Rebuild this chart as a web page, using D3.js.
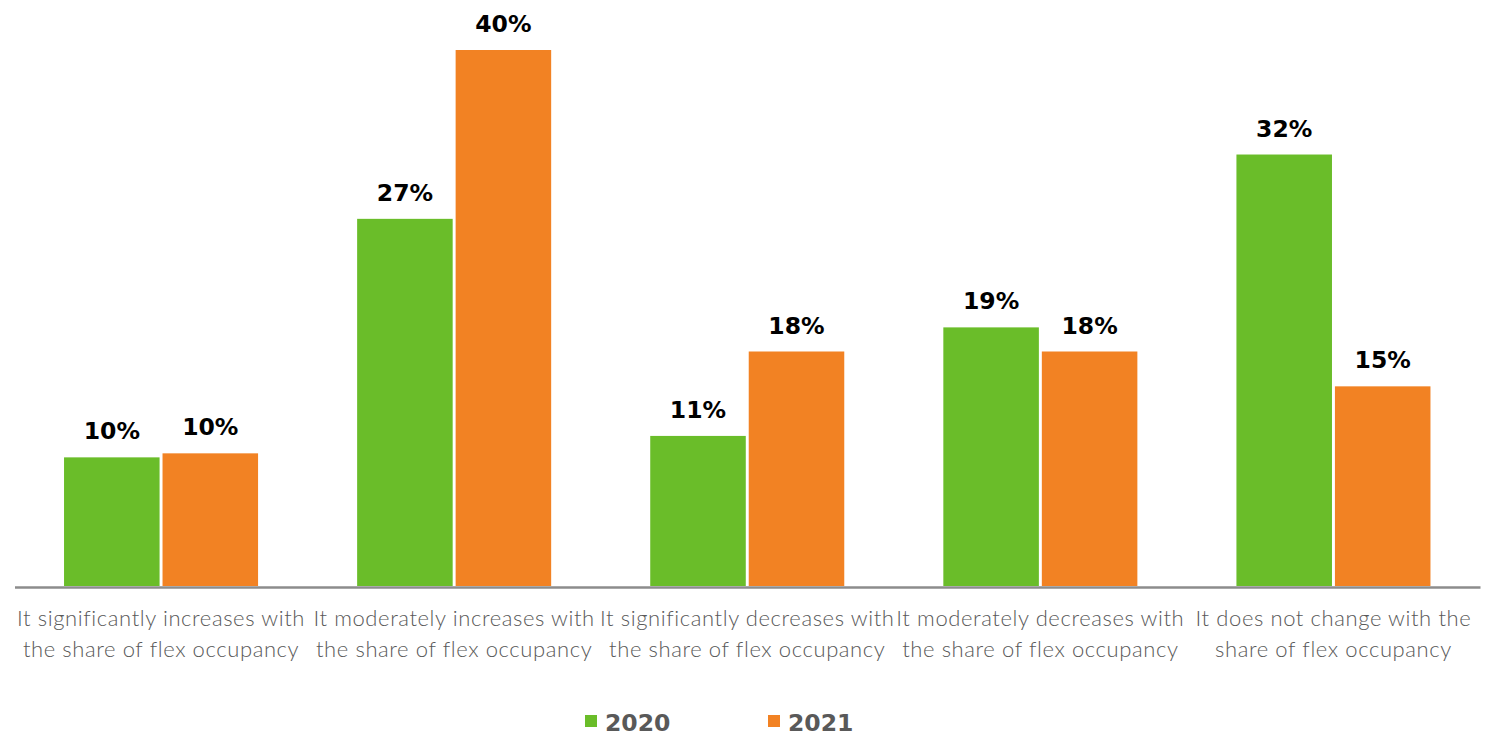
<!DOCTYPE html>
<html>
<head>
<meta charset="utf-8">
<script src="https://cdn.jsdelivr.net/npm/d3@7"></script>
<style>
  html, body { margin: 0; padding: 0; background: #ffffff; }
  svg { display: block; }
</style>
</head>
<body>
<svg id="chart" width="1485" height="737"></svg>
<script>
// Survey answers: how rent / value evolves with the share of flex occupancy
const categories = [
  ["It significantly increases with", "the share of flex occupancy"],
  ["It moderately increases with", "the share of flex occupancy"],
  ["It significantly decreases with", "the share of flex occupancy"],
  ["It moderately decreases with", "the share of flex occupancy"],
  ["It does not change with the", "share of flex occupancy"]
];
const seriesNames = ["2020", "2021"];
const values2020 = [9.6, 27.4, 11.2, 19.3, 32.2];
const values2021 = [9.9, 40.0, 17.5, 17.5, 14.9];
const seriesColors = ["#6abd29", "#f28223"];

const svg = d3.select("#chart");
const baseline = 586;
const plotTop = 50;

const catKeys = categories.map((c, i) => i);
const x0 = d3.scaleBand()
  .domain(catKeys)
  .range([14.5, 1480])
  .paddingInner(0.338)
  .paddingOuter(0.169);

const x1 = d3.scaleBand()
  .domain(seriesNames)
  .range([0, x0.bandwidth()])
  .paddingInner(0.03);

const y = d3.scaleLinear().domain([0, 40]).range([baseline, plotTop]);

const rows = catKeys.map(i => ({
  i,
  vals: [
    { s: seriesNames[0], v: values2020[i], c: seriesColors[0] },
    { s: seriesNames[1], v: values2021[i], c: seriesColors[1] }
  ]
}));

const fmt = v => d3.format(".0f")(v) + "%";

const groups = svg.append("g").selectAll("g")
  .data(rows)
  .join("g")
  .attr("transform", d => `translate(${x0(d.i)},0)`);

groups.selectAll("rect")
  .data(d => d.vals)
  .join("rect")
  .attr("x", d => x1(d.s))
  .attr("width", x1.bandwidth())
  .attr("y", d => y(d.v))
  .attr("height", d => baseline - y(d.v))
  .attr("fill", d => d.c);

groups.selectAll("text.val")
  .data(d => d.vals)
  .join("text")
  .attr("class", "val")
  .attr("x", d => x1(d.s) + x1.bandwidth() / 2)
  .attr("y", d => y(d.v) - 18)
  .attr("text-anchor", "middle")
  .attr("font-family", "'DejaVu Sans', sans-serif")
  .attr("font-weight", "bold")
  .attr("font-size", 23.5)
  .attr("fill", "#000000")
  .text(d => fmt(d.v));

// Category axis
const xAxis = d3.axisBottom(x0).tickSize(0).tickFormat("");
const axisG = svg.append("g")
  .attr("transform", `translate(0,${baseline + 1})`)
  .call(xAxis);
axisG.select(".domain").attr("stroke", "#8c8c8c").attr("stroke-width", 2.5);

const labelG = svg.append("g");
labelG.selectAll("text")
  .data(rows)
  .join("text")
  .attr("text-anchor", "middle")
  .attr("font-family", "Lato, sans-serif")
  .attr("font-weight", 300)
  .attr("font-size", 22)
  .attr("letter-spacing", 0.6)
  .attr("fill", "#595959")
  .each(function (d) {
    const t = d3.select(this);
    const cx = x0(d.i) + x0.bandwidth() / 2;
    categories[d.i].forEach((line, k) => {
      t.append("tspan")
        .attr("x", cx)
        .attr("y", 626 + k * 31)
        .text(line);
    });
  });

// Legend
const legend = svg.append("g");
const legendX = [585, 768];
seriesNames.forEach((name, k) => {
  const g = legend.append("g").attr("transform", `translate(${legendX[k]},0)`);
  g.append("rect")
    .attr("x", 0).attr("y", 715)
    .attr("width", 12).attr("height", 12)
    .attr("fill", seriesColors[k]);
  g.append("text")
    .attr("x", 20).attr("y", 731)
    .attr("font-family", "'DejaVu Sans', sans-serif")
    .attr("font-weight", "bold")
    .attr("font-size", 23.5)
    .attr("fill", "#595959")
    .text(name);
});
</script>
</body>
</html>
